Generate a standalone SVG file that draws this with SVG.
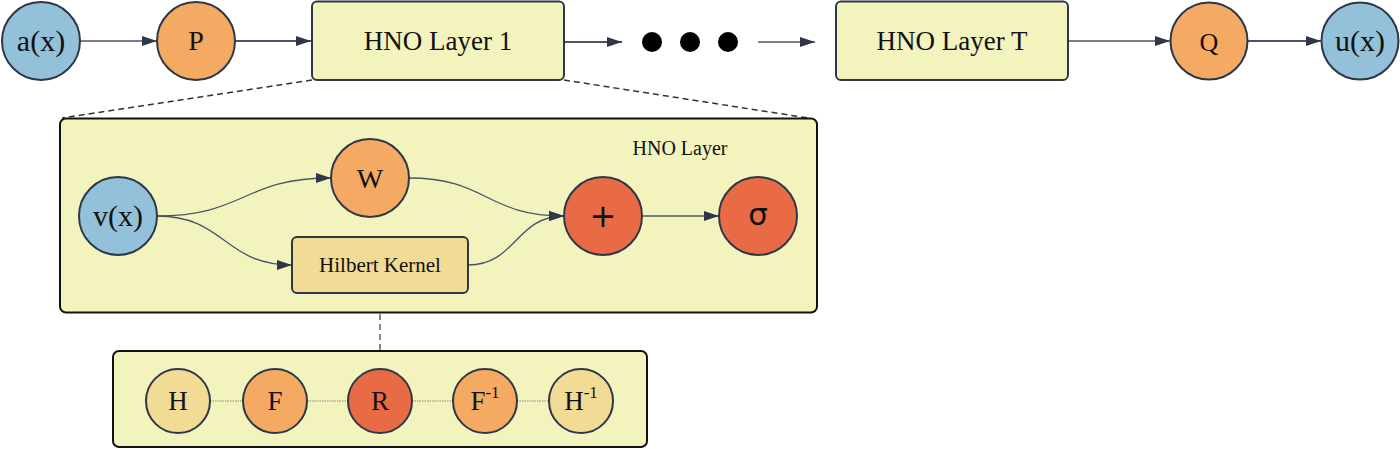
<svg xmlns="http://www.w3.org/2000/svg" width="1400" height="449" viewBox="0 0 1400 449">
<defs>
<style>
.st{stroke:#2d3748;stroke-width:2}
.blue{fill:#92c1d9}
.org{fill:#f4aa62}
.red{fill:#e96b45}
.ylw{fill:#f3f3bd}
.kern{fill:#f2db94}
.t{font-family:"Liberation Serif","Times New Roman",serif;fill:#111;text-anchor:middle;dominant-baseline:central}
.s{font-family:"DejaVu Sans","Liberation Sans",sans-serif;fill:#111;text-anchor:middle;dominant-baseline:central}
.ln{fill:none;stroke:#4a5568}
.dash{fill:none;stroke:#333;stroke-width:1.5;stroke-dasharray:6 4}
.dot{fill:none;stroke:#888;stroke-width:1.2;stroke-dasharray:1.5 1}
</style>
<marker id="ah" viewBox="0 0 15 10" markerWidth="15" markerHeight="10" refX="15" refY="5" orient="auto" markerUnits="userSpaceOnUse">
<path d="M0,0 L15,5 L0,10 z" fill="#2d3748"/>
</marker>
</defs>

<g id="connectors">
<line class="ln" x1="80" y1="41" x2="157" y2="41" stroke-width="1.3" marker-end="url(#ah)"/>
<line class="ln" x1="235" y1="41" x2="311" y2="41" stroke-width="2" marker-end="url(#ah)"/>
<line class="ln" x1="564" y1="42" x2="622" y2="42" stroke-width="2" marker-end="url(#ah)"/>
<line class="ln" x1="758" y1="42" x2="815" y2="42" stroke-width="1.6" marker-end="url(#ah)"/>
<line class="ln" x1="1068" y1="41" x2="1170" y2="41" stroke-width="1.6" marker-end="url(#ah)"/>
<line class="ln" x1="1248" y1="41" x2="1321" y2="41" stroke-width="2" marker-end="url(#ah)"/>
<line class="dash" x1="312" y1="80" x2="62" y2="118"/>
<line class="dash" x1="564" y1="80" x2="808" y2="118"/>
<line x1="380" y1="294" x2="380" y2="350" stroke="#888" stroke-width="2" stroke-dasharray="6 4"/>
</g>

<g id="dots">
<circle cx="652" cy="42" r="10" fill="#000"/>
<circle cx="690" cy="42" r="10" fill="#000"/>
<circle cx="728" cy="42" r="10" fill="#000"/>
</g>

<g id="node-ax"><circle class="blue st" cx="41" cy="41" r="39"/><text class="t" x="41" y="40" font-size="30">a(x)</text></g>
<g id="node-P"><circle class="org st" cx="196" cy="41" r="39"/><text class="t" x="196" y="40" font-size="28">P</text></g>
<g id="node-layer1"><rect class="ylw st" x="312" y="1.5" width="252" height="78.5" rx="5"/><text class="t" x="438" y="41" font-size="27">HNO Layer 1</text></g>
<g id="node-layerT"><rect class="ylw st" x="836" y="1.5" width="232" height="78.5" rx="5"/><text class="t" x="952" y="41" font-size="27">HNO Layer T</text></g>
<g id="node-Q"><circle class="org st" cx="1209" cy="41" r="38.5"/><text class="t" x="1209" y="42" font-size="26">Q</text></g>
<g id="node-ux"><circle class="blue st" cx="1360" cy="41" r="38.5"/><text class="t" x="1360" y="40" font-size="30">u(x)</text></g>

<g id="hno-layer">
<rect class="ylw" x="60" y="118.5" width="757" height="194" rx="6" stroke="#111" stroke-width="2"/>
<text class="t" x="680" y="148" font-size="20">HNO Layer</text>
<g id="layer-connectors">
<path class="ln" stroke-width="1.3" d="M157,216 C245,216 243,178 331,178" marker-end="url(#ah)"/>
<path class="ln" stroke-width="1.3" d="M157,216 C225,216 224,265 292,265" marker-end="url(#ah)"/>
<path class="ln" stroke-width="1.3" d="M409,178 C487,178 486,216 564,216" marker-end="url(#ah)"/>
<path class="ln" stroke-width="1.3" d="M468,265 C516,265 516,216 564,216" marker-end="url(#ah)"/>
<line class="ln" stroke-width="1.3" x1="642" y1="216" x2="719" y2="216" marker-end="url(#ah)"/>
</g>
<g id="node-vx"><circle class="blue st" cx="118" cy="216" r="39"/><text class="t" x="118" y="215" font-size="30">v(x)</text></g>
<g id="node-W"><circle class="org st" cx="370" cy="178" r="39"/><text class="t" x="370" y="178" font-size="28">W</text></g>
<g id="node-kernel"><rect class="kern st" x="292" y="237" width="176" height="56" rx="5"/><text class="t" x="380" y="265" font-size="21">Hilbert Kernel</text></g>
<g id="node-plus"><circle class="red st" cx="603" cy="216" r="39"/><text class="s" x="603" y="216" font-size="32">+</text></g>
<g id="node-sigma"><circle class="red st" cx="758" cy="216" r="39"/><text class="s" x="758" y="214" font-size="31">σ</text></g>
</g>

<g id="kernel-detail">
<rect class="ylw" x="113" y="351" width="534" height="96" rx="6" stroke="#111" stroke-width="2"/>
<g id="kernel-connectors">
<line class="dot" x1="210" y1="401" x2="242" y2="401"/>
<line class="dot" x1="307" y1="401" x2="348" y2="401"/>
<line class="dot" x1="412" y1="401" x2="453" y2="401"/>
<line class="dot" x1="517" y1="401" x2="549" y2="401"/>
</g>
<g id="node-H"><circle class="kern st" cx="178" cy="401" r="32"/><text class="t" x="178" y="401" font-size="27">H</text></g>
<g id="node-F"><circle class="org st" cx="275" cy="401" r="32"/><text class="t" x="275" y="401" font-size="27">F</text></g>
<g id="node-R"><circle class="red st" cx="380" cy="401" r="32"/><text class="t" x="380" y="401" font-size="27">R</text></g>
<g id="node-Finv"><circle class="org st" cx="485" cy="401" r="32"/><text class="t" x="485" y="401" font-size="27">F<tspan font-size="17" dy="-9">-1</tspan></text></g>
<g id="node-Hinv"><circle class="kern st" cx="581" cy="401" r="32"/><text class="t" x="581" y="401" font-size="27">H<tspan font-size="17" dy="-9">-1</tspan></text></g>
</g>
</svg>
